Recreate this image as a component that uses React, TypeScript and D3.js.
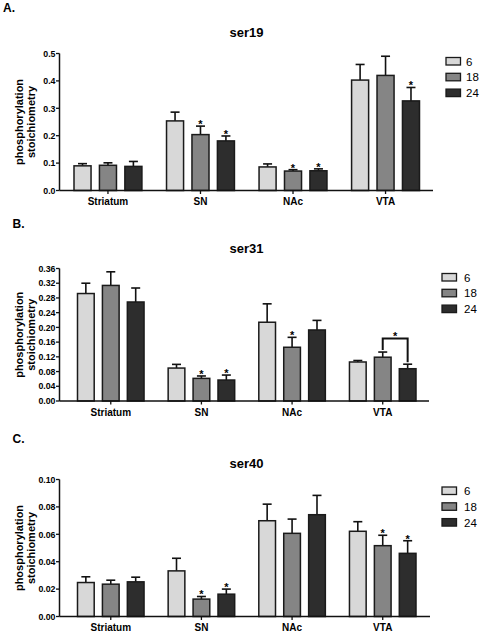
import React from "react";
import * as d3 from "d3";

const regions = ["Striatum", "SN", "NAc", "VTA"];
const ages = ["6", "18", "24"];
const ageColors = ["#d8d8d8", "#858585", "#2d2d2d"];

// ser19
const ser19Means = [
  [0.090, 0.092, 0.088],
  [0.254, 0.204, 0.181],
  [0.086, 0.071, 0.072],
  [0.403, 0.420, 0.327],
];
const ser19Sem = [
  [0.008, 0.009, 0.018],
  [0.032, 0.031, 0.018],
  [0.011, 0.005, 0.007],
  [0.057, 0.070, 0.049],
];
const ser19Stars = [
  [0, 0, 0],
  [0, 1, 1],
  [0, 1, 1],
  [0, 0, 1],
];
const ser19Ticks = [0, 0.1, 0.2, 0.3, 0.4, 0.5];

// ser31
const ser31Means = [
  [0.292, 0.314, 0.269],
  [0.0895, 0.0615, 0.057],
  [0.214, 0.146, 0.193],
  [0.106, 0.119, 0.0877],
];
const ser31Sem = [
  [0.028, 0.037, 0.038],
  [0.010, 0.0065, 0.0135],
  [0.050, 0.027, 0.026],
  [0.004, 0.014, 0.0123],
];
const ser31Stars = [
  [0, 0, 0],
  [0, 1, 1],
  [0, 1, 0],
  [0, 0, 0],
];
const ser31Ticks = [0, 0.04, 0.08, 0.12, 0.16, 0.2, 0.24, 0.28, 0.32, 0.36];
// bracket: region index, from age index, to age index
const ser31Bracket = [3, 1, 2];

// ser40
const ser40Means = [
  [0.0248, 0.0236, 0.0253],
  [0.0333, 0.0127, 0.0163],
  [0.0699, 0.0607, 0.0743],
  [0.0622, 0.0517, 0.0461],
];
const ser40Sem = [
  [0.0042, 0.0029, 0.0034],
  [0.0092, 0.0019, 0.0037],
  [0.0121, 0.0104, 0.0141],
  [0.0070, 0.0076, 0.0092],
];
const ser40Stars = [
  [0, 0, 0],
  [0, 1, 1],
  [0, 0, 0],
  [0, 1, 1],
];
const ser40Ticks = [0, 0.02, 0.04, 0.06, 0.08, 0.1];

const FONT = "'Liberation Sans', Arial, Helvetica, sans-serif";

type PanelProps = {
  letter: string;
  letterX: number;
  letterY: number;
  title: string;
  titleY: number;
  top: number;
  bottom: number;
  axisX0: number;
  axisX1: number;
  barX0: number;
  barX1: number;
  means: number[][];
  sem: number[][];
  stars: number[][];
  ticks: number[];
  fmt: string;
  legendX: number;
  legendY: number;
  legendText: number;
  bracket?: number[];
};

function Panel(p: PanelProps) {
  const yMax = p.ticks[p.ticks.length - 1];
  const y = d3.scaleLinear().domain([0, yMax]).range([p.bottom, p.top]);
  const x0 = d3
    .scaleBand<string>()
    .domain(regions)
    .range([p.barX0, p.barX1])
    .paddingInner(0.266)
    .paddingOuter(0);
  const x1 = d3
    .scaleBand<string>()
    .domain(ages)
    .range([0, x0.bandwidth()])
    .paddingInner(0.33)
    .paddingOuter(0);
  const fmt = d3.format(p.fmt);
  const capHalf = 4.5;
  const midY = (p.top + p.bottom) / 2;
  const legendStep = 15.8;

  return (
    <g>
      <text x={p.letterX} y={p.letterY} fontFamily={FONT} fontWeight="bold" fontSize={12}>
        {p.letter}
      </text>
      <text
        x={246.5}
        y={p.titleY}
        textAnchor="middle"
        fontFamily={FONT}
        fontWeight="bold"
        fontSize={13}
      >
        {p.title}
      </text>
      {/* y label */}
      <text
        transform={`translate(22.5,${midY}) rotate(-90)`}
        textAnchor="middle"
        fontFamily={FONT}
        fontWeight="bold"
        fontSize={11}
      >
        phosphorylation
      </text>
      <text
        transform={`translate(35,${midY}) rotate(-90)`}
        textAnchor="middle"
        fontFamily={FONT}
        fontWeight="bold"
        fontSize={11}
      >
        stoichiometry
      </text>
      {/* bars */}
      {regions.map((r, ri) =>
        ages.map((a, ai) => {
          const bx = (x0(r) as number) + (x1(a) as number);
          const bw = x1.bandwidth();
          const cx = bx + bw / 2;
          const m = p.means[ri][ai];
          const e = m + p.sem[ri][ai];
          return (
            <g key={r + a}>
              <line x1={cx} x2={cx} y1={y(m)} y2={y(e)} stroke="#111" strokeWidth={1.6} />
              <line
                x1={cx - capHalf}
                x2={cx + capHalf}
                y1={y(e)}
                y2={y(e)}
                stroke="#111"
                strokeWidth={1.6}
              />
              <rect
                x={bx}
                y={y(m)}
                width={bw}
                height={p.bottom - y(m)}
                fill={ageColors[ai]}
                stroke="#1a1a1a"
                strokeWidth={1.5}
              />
              {p.stars[ri][ai] ? (
                <text
                  x={cx}
                  y={y(e) + 2}
                  textAnchor="middle"
                  fontFamily={FONT}
                  fontWeight="bold"
                  fontSize={11}
                >
                  *
                </text>
              ) : null}
            </g>
          );
        })
      )}
      {p.bracket
        ? (() => {
            const [ri, a0, a1] = p.bracket as number[];
            const r = regions[ri];
            const bw = x1.bandwidth();
            const cxa = (x0(r) as number) + (x1(ages[a0]) as number) + bw / 2;
            const cxb = (x0(r) as number) + (x1(ages[a1]) as number) + bw / 2;
            const ea = y(p.means[ri][a0] + p.sem[ri][a0]);
            const eb = y(p.means[ri][a1] + p.sem[ri][a1]);
            const hy = ea - 13.5;
            return (
              <g>
                <path
                  d={`M${cxa},${ea - 2}V${hy}H${cxb}V${eb - 2}`}
                  fill="none"
                  stroke="#111"
                  strokeWidth={2}
                />
                <text
                  x={(cxa + cxb) / 2}
                  y={hy + 1.5}
                  textAnchor="middle"
                  fontFamily={FONT}
                  fontWeight="bold"
                  fontSize={11}
                >
                  *
                </text>
              </g>
            );
          })()
        : null}
      {/* y axis */}
      <line x1={p.axisX0} x2={p.axisX0} y1={p.top} y2={p.bottom} stroke="#111" strokeWidth={1.5} />
      {p.ticks.map((t) => (
        <g key={t}>
          <line x1={p.axisX0 - 3.5} x2={p.axisX0} y1={y(t)} y2={y(t)} stroke="#111" strokeWidth={1.3} />
          <text
            x={p.axisX0 - 4}
            y={y(t) + 3.2}
            textAnchor="end"
            fontFamily={FONT}
            fontWeight="bold"
            fontSize={8.8}
          >
            {fmt(t)}
          </text>
        </g>
      ))}
      {/* x axis */}
      <line x1={p.axisX0} x2={p.axisX1} y1={p.bottom} y2={p.bottom} stroke="#111" strokeWidth={1.5} />
      {regions.map((r) => {
        const cx = (x0(r) as number) + x0.bandwidth() / 2;
        return (
          <g key={r}>
            <line x1={cx} x2={cx} y1={p.bottom} y2={p.bottom + 3.5} stroke="#111" strokeWidth={1.3} />
            <text
              x={cx}
              y={p.bottom + 14.5}
              textAnchor="middle"
              fontFamily={FONT}
              fontWeight="bold"
              fontSize={10}
            >
              {r}
            </text>
          </g>
        );
      })}
      {/* legend */}
      {ages.map((a, i) => (
        <g key={a}>
          <rect
            x={p.legendX}
            y={p.legendY + i * legendStep}
            width={14.5}
            height={7.5}
            fill={ageColors[i]}
            stroke="#1a1a1a"
            strokeWidth={1.3}
          />
          <text
            x={p.legendText}
            y={p.legendY + i * legendStep + 8}
            fontFamily={FONT}
            fontSize={11.5}
          >
            {a}
          </text>
        </g>
      ))}
    </g>
  );
}

export default function App() {
  return (
    <svg
      width={484}
      height={634}
      style={{ position: "absolute", left: 0, top: 0, background: "#fff" }}
    >
      <rect x={0} y={0} width={484} height={634} fill="#fff" />
      <Panel
        letter="A."
        letterX={3}
        letterY={12}
        title="ser19"
        titleY={37}
        top={53.5}
        bottom={190.5}
        axisX0={59.5}
        axisX1={433}
        barX0={74}
        barX1={419.5}
        means={ser19Means}
        sem={ser19Sem}
        stars={ser19Stars}
        ticks={ser19Ticks}
        fmt=".1f"
        legendX={446}
        legendY={57.5}
        legendText={466}
      />
      <Panel
        letter="B."
        letterX={12.5}
        letterY={228}
        title="ser31"
        titleY={253}
        top={268.5}
        bottom={401}
        axisX0={59.5}
        axisX1={429}
        barX0={77.5}
        barX1={416}
        means={ser31Means}
        sem={ser31Sem}
        stars={ser31Stars}
        ticks={ser31Ticks}
        fmt=".2f"
        legendX={442}
        legendY={273.5}
        legendText={464}
        bracket={ser31Bracket}
      />
      <Panel
        letter="C."
        letterX={12.5}
        letterY={443}
        title="ser40"
        titleY={468}
        top={479.5}
        bottom={616.5}
        axisX0={59.5}
        axisX1={430}
        barX0={77.5}
        barX1={416}
        means={ser40Means}
        sem={ser40Sem}
        stars={ser40Stars}
        ticks={ser40Ticks}
        fmt=".2f"
        legendX={442}
        legendY={487}
        legendText={464}
      />
    </svg>
  );
}
